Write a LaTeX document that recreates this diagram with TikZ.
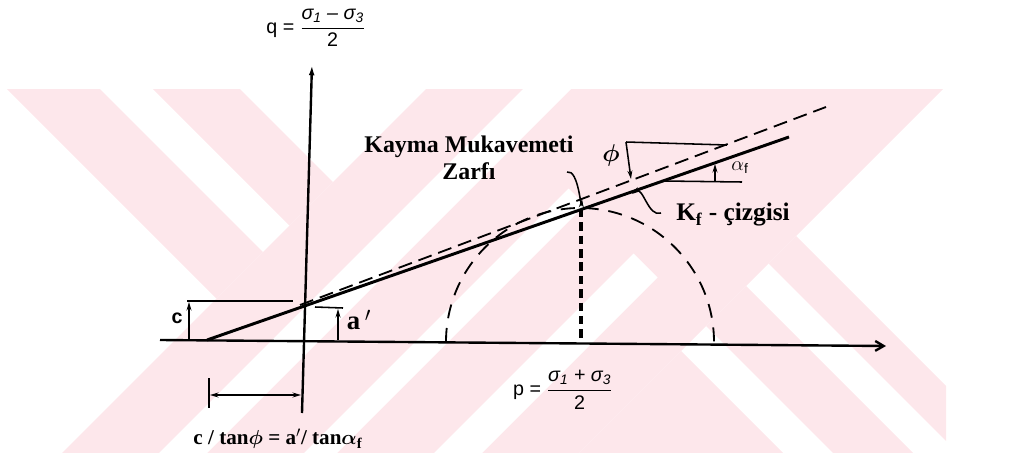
\documentclass[tikz,border=0pt]{standalone}
\usepackage{fontspec}
\usepackage{amsmath}
\setmainfont{Liberation Serif}
\setsansfont{Liberation Sans}
\usetikzlibrary{arrows.meta, positioning, calc}
\definecolor{wmpink}{RGB}{253,231,235}

\begin{document}
\begin{tikzpicture}[
    x=0.025cm, y=-0.025cm,
    >={Stealth[length=6pt, width=3.5pt]},
    band/.style={fill=wmpink, draw=none},
    gap/.style={fill=white, draw=none},
    axisline/.style={line width=1.7pt},
    kfline/.style={line width=2.1pt},
    envelope/.style={line width=1.3pt, dash pattern=on 10pt off 5pt},
    mohr/.style={line width=1.3pt, dash pattern=on 10pt off 7pt},
    stressline/.style={line width=2.4pt, dash pattern=on 6pt off 3.5pt},
    dimline/.style={line width=1.1pt},
    seriflabel/.style={font=\bfseries\fontsize{17}{19}\selectfont, inner sep=1pt},
    sanslabel/.style={font=\sffamily\fontsize{14}{16}\selectfont, inner sep=1pt}
]
\useasboundingbox (0,0) rectangle (1009,461);

% watermark bands (s = x+y, d = x-y)
\begin{scope}
  \clip (7,89) rectangle (946,452);
  \foreach \dl/\dh in {-82/11, 64/151} {
    \fill[band] ({(-600+\dl)/2},{(-600-\dl)/2}) -- ({(-600+\dh)/2},{(-600-\dh)/2})
      -- ({(515+\dh)/2},{(515-\dh)/2}) -- ({(515+\dl)/2},{(515-\dl)/2}) -- cycle;
  }
  \fill[band] ({(515-1000)/2},{(515+1000)/2}) -- ({(1032-1000)/2},{(1032+1000)/2})
    -- ({(1032+1000)/2},{(1032-1000)/2}) -- ({(515+1000)/2},{(515-1000)/2}) -- cycle;
  \fill[gap] ({(612-1000)/2},{(612+1000)/2}) -- ({(660-1000)/2},{(660+1000)/2})
    -- ({(660+1000)/2},{(660-1000)/2}) -- ({(612+1000)/2},{(612-1000)/2}) -- cycle;
  \foreach \sl/\sh in {757/790, 887/935} {
    \fill[gap] ({(\sl-1000)/2},{(\sl+1000)/2}) -- ({(\sh-1000)/2},{(\sh+1000)/2})
      -- ({(\sh+380)/2},{(\sh-380)/2}) -- ({(\sl+380)/2},{(\sl-380)/2}) -- cycle;
  }
  \foreach \dl/\dh in {-200/330, 380/460, 505/560} {
    \fill[band] ({(1032+\dl)/2},{(1032-\dl)/2}) -- ({(1032+\dh)/2},{(1032-\dh)/2})
      -- ({(2000+\dh)/2},{(2000-\dh)/2}) -- ({(2000+\dl)/2},{(2000-\dl)/2}) -- cycle;
  }
\end{scope}

% axes
\coordinate (qbot) at (302,413);
\coordinate (qtop) at (312,64);
\coordinate (pleft) at (160,340);
\coordinate (pright) at (886,346);
\draw[axisline, -{Latex[length=8pt, width=4pt]}] (qbot) -- (qtop);
\draw[axisline, -{Straight Barb[length=6pt, width=7pt]}] (pleft) -- (pright);

\node[sanslabel] (qlabel) at (316,28)
  {q = $\dfrac{\text{\itshape σ\textsubscript{1} – σ\textsubscript{3}}}{\text{2}}$};
\node[sanslabel] (plabel) at (563,390)
  {p = $\dfrac{\text{\itshape σ\textsubscript{1} + σ\textsubscript{3}}}{\text{2}}$};

% Kf line and failure envelope
\coordinate (kfstart) at (207,340);
\coordinate (kfend) at (789,137);
\coordinate (envstart) at (300,305);
\coordinate (envend) at (826,107);
\draw[kfline] (kfstart) -- (kfend);
\draw[envelope] (envstart) -- (envend);

% Mohr circle and stress point
\coordinate (mohrleft) at (446,342);
\coordinate (peak) at (581,209);
\coordinate (peakfoot) at (581,342);
\draw[mohr] (mohrleft) arc[start angle=180, end angle=360, radius=134];
\draw[stressline] (peak) -- (peakfoot);

% c intercept
\coordinate (cleft) at (187,301);
\coordinate (cright) at (293,301);
\coordinate (cbot) at (189,340);
\coordinate (ctip) at (189,302);
\draw[dimline] (cleft) -- (cright);
\draw[dimline, ->] (cbot) -- (ctip);
\node[font=\sffamily\bfseries\fontsize{14}{16}\selectfont] (clabel) at (177,318) {c};

% a' intercept
\coordinate (aleft) at (315,307);
\coordinate (aright) at (343,308);
\coordinate (abot) at (338,340);
\coordinate (atip) at (338,309);
\draw[dimline] (aleft) -- (aright);
\draw[dimline, ->] (abot) -- (atip);
\node[seriflabel, font=\bfseries\fontsize{19}{20}\selectfont] (alabel) at (359,320) {a\,$'$};

% intercept distance on p axis
\coordinate (ticktop) at (209,378);
\coordinate (tickbot) at (209,408);
\coordinate (distleft) at (210,395);
\coordinate (distright) at (301,395);
\draw[dimline] (ticktop) -- (tickbot);
\draw[dimline, <->] (distleft) -- (distright);
\node[seriflabel, font=\bfseries\fontsize{15}{17}\selectfont] (ratio) at (278,439)
  {c / tan$\boldsymbol{\phi}$ = a$'$/ tan$\boldsymbol{\alpha}_{\mathbf{f}}$};

% phi slope
\coordinate (phileft) at (626,142);
\coordinate (phiright) at (727,145);
\coordinate (phitip) at (631,179);
\draw[dimline] (phileft) -- (phiright);
\draw[dimline, ->] (phileft) -- (phitip);
\node[font=\fontsize{16}{18}\selectfont] (philabel) at (611,155) {$\boldsymbol{\phi}$};

% alpha slope
\coordinate (alphaleft) at (663,181);
\coordinate (alpharight) at (742,182);
\coordinate (alphafoot) at (715,181);
\coordinate (alphatip) at (715,164);
\draw[dimline] (alphaleft) -- (alpharight);
\draw[dimline, ->] (alphafoot) -- (alphatip);
\node[font=\sffamily\fontsize{14}{16}\selectfont, inner sep=1pt] (alphalabel) at (740,168) {$\alpha_{\mathsf{f}}$};

% labels with leaders
\node[seriflabel, align=center] (zarf) at (469,158) {Kayma Mukavemeti\\Zarfı};
\coordinate (zarfstart) at (567,172);
\coordinate (zarftip) at (582,199);
\draw[dimline, ->] (zarfstart) to[out=15, in=265] (zarftip);

\node[seriflabel, font=\bfseries\fontsize{18}{20}\selectfont] (kflabel) at (733,215) {K\textsubscript{f} - çizgisi};
\coordinate (kfstartlead) at (661,213);
\coordinate (kftip) at (632,194);
\draw[dimline, ->] (kfstartlead) to[out=200, in=35] (kftip);

\end{tikzpicture}
\end{document}
